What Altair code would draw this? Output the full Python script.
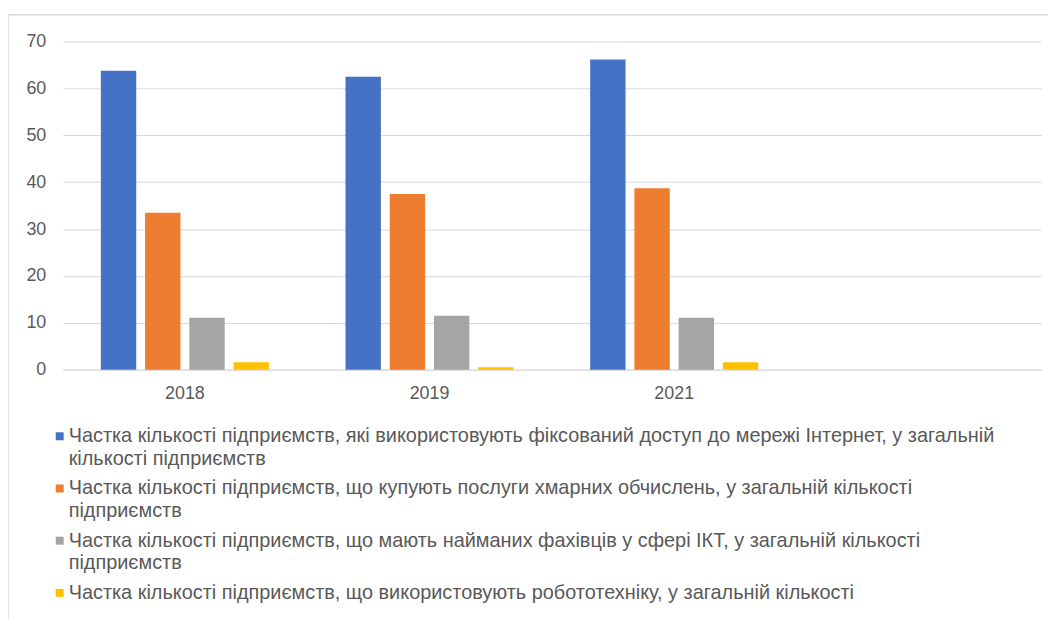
import altair as alt
import pandas as pd

years = ["2018", "2019", "2021"]
x_domain = ["2018", "2019", "2021", " "]

series = [
    "Частка кількості підприємств, які використовують фіксований доступ до мережі Інтернет, у загальній кількості підприємств",
    "Частка кількості підприємств, що купують послуги хмарних обчислень, у загальній кількості підприємств",
    "Частка кількості підприємств, що мають найманих фахівців у сфері ІКТ, у загальній кількості підприємств",
    "Частка кількості підприємств, що використовують робототехніку, у загальній кількості",
]
legend_text = [
    "Частка кількості підприємств, які використовують фіксований доступ до мережі Інтернет, у загальній\nкількості підприємств",
    "Частка кількості підприємств, що купують послуги хмарних обчислень, у загальній кількості\nпідприємств",
    "Частка кількості підприємств, що мають найманих фахівців у сфері ІКТ, у загальній кількості\nпідприємств",
    "Частка кількості підприємств, що використовують робототехніку, у загальній кількості",
]
colors = ["#4472C4", "#ED7D31", "#A5A5A5", "#FFC000"]

internet = [63.8, 62.5, 66.2]
cloud = [33.5, 37.5, 38.7]
ict = [11.1, 11.5, 11.1]
robot = [1.6, 0.5, 1.6]

rows = []
for s, vals in zip(series, [internet, cloud, ict, robot]):
    for y, v in zip(years, vals):
        rows.append({"year": y, "series": s, "value": v})
df = pd.DataFrame(rows)

TXT = "#595959"
GRID = "#D9D9D9"
FRAME = "#D9D9D9"

color_scale = alt.Scale(domain=series, range=colors)

bars = alt.Chart(df).mark_bar().encode(
    x=alt.X(
        "year:N",
        scale=alt.Scale(domain=x_domain, paddingInner=0.313, paddingOuter=0.156),
        axis=alt.Axis(title=None, labelAngle=0, ticks=False, tickSize=0, domainColor=GRID,
                      labelPadding=15, labelFontSize=18, labelColor=TXT, grid=False),
    ),
    xOffset=alt.XOffset("series:N", scale=alt.Scale(domain=series, paddingInner=0.2, paddingOuter=0)),
    y=alt.Y(
        "value:Q",
        scale=alt.Scale(domain=[0, 70], nice=False),
        axis=alt.Axis(title=None, values=list(range(0, 71, 10)), domain=False, ticks=False, tickSize=0,
                      gridColor=GRID, labelPadding=17, labelFontSize=18, labelColor=TXT),
    ),
    color=alt.Color("series:N", scale=color_scale, legend=None),
)

# legend drawn below the plot area through its own band scale
leg_df = pd.DataFrame({"series": series, "text": legend_text})
ysc = alt.Scale(domain=series, range=[360.75, 570.75], paddingInner=0, paddingOuter=0)
leg_base = alt.Chart(leg_df)
squares = leg_base.mark_square(size=64, yOffset=10, opacity=1).encode(
    x=alt.value(-3),
    y=alt.Y("series:N", scale=ysc, axis=None),
    color=alt.Color("series:N", scale=color_scale, legend=None),
)
texts = leg_base.mark_text(align="left", baseline="top", lineBreak="\n", lineHeight=22.5,
                           fontSize=20, color=TXT).encode(
    x=alt.value(6),
    y=alt.Y("series:N", scale=ysc, axis=None),
    text="text:N",
)

one = pd.DataFrame({"k": [0]})
frame_top = alt.Chart(one).mark_rule(color=FRAME, strokeWidth=1.5).encode(
    x=alt.value(-55), x2=alt.value(1000), y=alt.value(-27)
)
frame_left = alt.Chart(one).mark_rule(color=FRAME, strokeWidth=1.5).encode(
    x=alt.value(-55), y=alt.value(-27), y2=alt.value(700)
)

chart = alt.layer(bars, squares, texts, frame_top, frame_left).resolve_scale(
    y="independent"
).properties(
    width=984, height=330,
    autosize=alt.AutoSizeParams(type="none"),
    padding={"left": 55, "top": 32, "right": 7, "bottom": 249},
).configure(font="Liberation Sans").configure_view(stroke=None)

chart.save("out.html", embed_options={"renderer": "svg", "actions": False})
